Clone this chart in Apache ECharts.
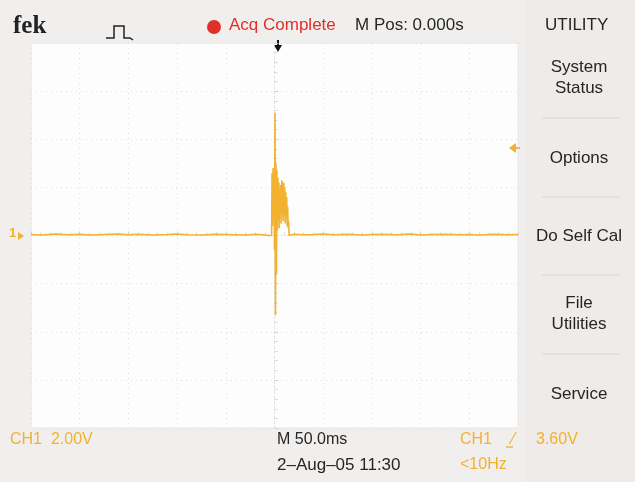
<!DOCTYPE html>
<html><head><meta charset="utf-8">
<script src="https://cdn.jsdelivr.net/npm/echarts@6/dist/echarts.min.js"></script>
<style>html,body{margin:0;padding:0;background:#f1efed;}#c{width:635px;height:482px;}</style>
</head><body><div id="c"></div>
<script>
// Time (ms) relative to trigger, and CH1 voltage (V)
const timeMs = [-250,-240,-225,-210,-200,-190,-175,-160,-150,-140,-125,-110,-100,-90,-75,-60,-50,-40,-30,-20,-12,-6,-3,
  -2.5,-2,-1.5,-1,-0.5,0,0.5,1,1.5,2,2.5,3,3.5,4,4.5,5,5.5,6,6.5,7,7.5,8,8.5,9,9.5,10,10.5,11,11.5,12,12.5,13,13.5,14,14.5,15,
  16,20,30,40,50,60,75,90,100,110,125,140,150,160,175,190,200,210,225,240,250];
const volts = [0.04,0.02,0.06,0.03,0.05,0.02,0.04,0.06,0.03,0.05,0.02,0.04,0.06,0.03,0.02,0.05,0.04,0.03,0.02,0.05,0.03,0.0,0.0,
  2.6,0.4,2.8,1.0,2.5,-0.6,5.1,-3.3,3.0,-1.6,2.7,0.2,2.4,0.6,2.2,0.3,1.9,1.1,2.1,0.5,2.3,0.9,2.2,0.6,2.2,0.8,2.0,0.5,1.8,0.9,1.6,0.4,1.2,0.3,0.6,0.0,
  0.02,0.05,0.03,0.04,0.06,0.03,0.05,0.02,0.04,0.05,0.03,0.06,0.02,0.04,0.05,0.03,0.04,0.02,0.05,0.03,0.04];
const timeDiv = 50;      // ms per division
const voltDiv = 2;       // V per division
const menuItems = ['System\nStatus','Options','Do Self Cal','File\nUtilities','Service'];

const chart = echarts.init(document.getElementById('c'));
const font = '"Liberation Sans", Arial, sans-serif';
const orange = '#f2b12e';
const dark = '#262626';
const gridL = 31, gridR = 518, gridT = 43, gridB = 428;
const graphics = [
  {type:'rect', shape:{x:525,y:0,width:110,height:482}, style:{fill:'#eeebe9'}, z:-1},
  {type:'text', left:13, top:14, style:{text:'fek', font:'bold 25px "Liberation Serif", serif', fill:'#222'}},
  {type:'polyline', shape:{points:[[106,38],[114,38],[114,26],[124,26],[124,38],[130,38],[133,40]]}, style:{stroke:'#222',lineWidth:1.5,fill:null}},
  {type:'circle', shape:{cx:214,cy:27,r:7}, style:{fill:'#e0302a'}},
  {type:'text', left:229, top:17, style:{text:'Acq Complete', font:'17px '+font, fill:'#e0302a'}},
  {type:'text', left:355, top:17, style:{text:'M Pos: 0.000s', font:'17px '+font, fill:dark}},
  {type:'text', left:545, top:17, style:{text:'UTILITY', font:'17px '+font, fill:dark}},
  {type:'polygon', shape:{points:[[274,45],[282,45],[278,52]]}, style:{fill:'#111'}},
  {type:'line', shape:{x1:278,y1:40,x2:278,y2:46}, style:{stroke:'#111',lineWidth:2}},
  {type:'text', left:9, top:227, style:{text:'1', font:'bold 13px '+font, fill:orange}},
  {type:'polygon', shape:{points:[[18,232],[24,236],[18,240]]}, style:{fill:orange}},
  {type:'polygon', shape:{points:[[509,148],[516,143],[516,153]]}, style:{fill:orange}},
  {type:'line', shape:{x1:514,y1:148,x2:520,y2:148}, style:{stroke:orange,lineWidth:2}},
  {type:'text', left:10, top:432, style:{text:'CH1  2.00V', font:'16px '+font, fill:orange}},
  {type:'text', left:277, top:432, style:{text:'M 50.0ms', font:'16px '+font, fill:dark}},
  {type:'text', left:277, top:457, style:{text:'2–Aug–05 11:30', font:'17px '+font, fill:dark}},
  {type:'text', left:460, top:432, style:{text:'CH1', font:'16px '+font, fill:orange}},
  {type:'text', left:512, top:432, style:{text:'⁄', font:'16px '+font, fill:orange}},
  {type:'line', shape:{x1:506,y1:447,x2:513,y2:447}, style:{stroke:orange,lineWidth:1.3}},
  {type:'text', left:536, top:432, style:{text:'3.60V', font:'16px '+font, fill:orange}},
  {type:'text', left:460, top:457, style:{text:'<10Hz', font:'16px '+font, fill:orange}}
];
const menuY = [78,158,236,314,394];
menuItems.forEach((m,i)=>{
  graphics.push({type:'text', x:579, y:menuY[i], style:{text:m, font:'17px '+font, fill:dark, align:'center', verticalAlign:'middle', lineHeight:21}});
  if(i<menuItems.length-1){
    const ly = (menuY[i]+menuY[i+1])/2;
    graphics.push({type:'line', shape:{x1:542,y1:ly,x2:620,y2:ly}, style:{stroke:'#dad6d3',lineWidth:1}});
  }
});

chart.setOption({
  animation:false,
  backgroundColor:'#f1efed',
  grid:{left:gridL, right:635-gridR, top:gridT, bottom:482-gridB, show:true, backgroundColor:'#fdfdfd', borderColor:'#e8e8e8', borderWidth:1},
  xAxis:{type:'value', min:-5*timeDiv, max:5*timeDiv, interval:timeDiv,
    axisLine:{onZero:true, lineStyle:{color:'#e2e2e2', type:[2,3]}},
    axisTick:{show:true, inside:true, length:4, lineStyle:{color:'#d2d2d2'}},
    minorTick:{show:true, splitNumber:5, length:3, lineStyle:{color:'#d8d8d8'}},
    axisLabel:{show:false},
    splitLine:{show:true, lineStyle:{color:'#e0e0e0', type:[1,4]}}},
  yAxis:{type:'value', min:-4*voltDiv, max:4*voltDiv, interval:voltDiv,
    axisLine:{show:true, onZero:true, lineStyle:{color:'#e2e2e2', type:[2,3]}},
    axisTick:{show:true, inside:true, length:4, lineStyle:{color:'#d2d2d2'}},
    minorTick:{show:true, splitNumber:5, length:3, lineStyle:{color:'#d8d8d8'}},
    axisLabel:{show:false},
    splitLine:{show:true, lineStyle:{color:'#e0e0e0', type:[1,4]}}},
  series:[{type:'line', data:timeMs.map((t,i)=>[t,volts[i]]), showSymbol:false, lineStyle:{color:orange,width:1.6}}],
  graphic:graphics
});
</script></body></html>
